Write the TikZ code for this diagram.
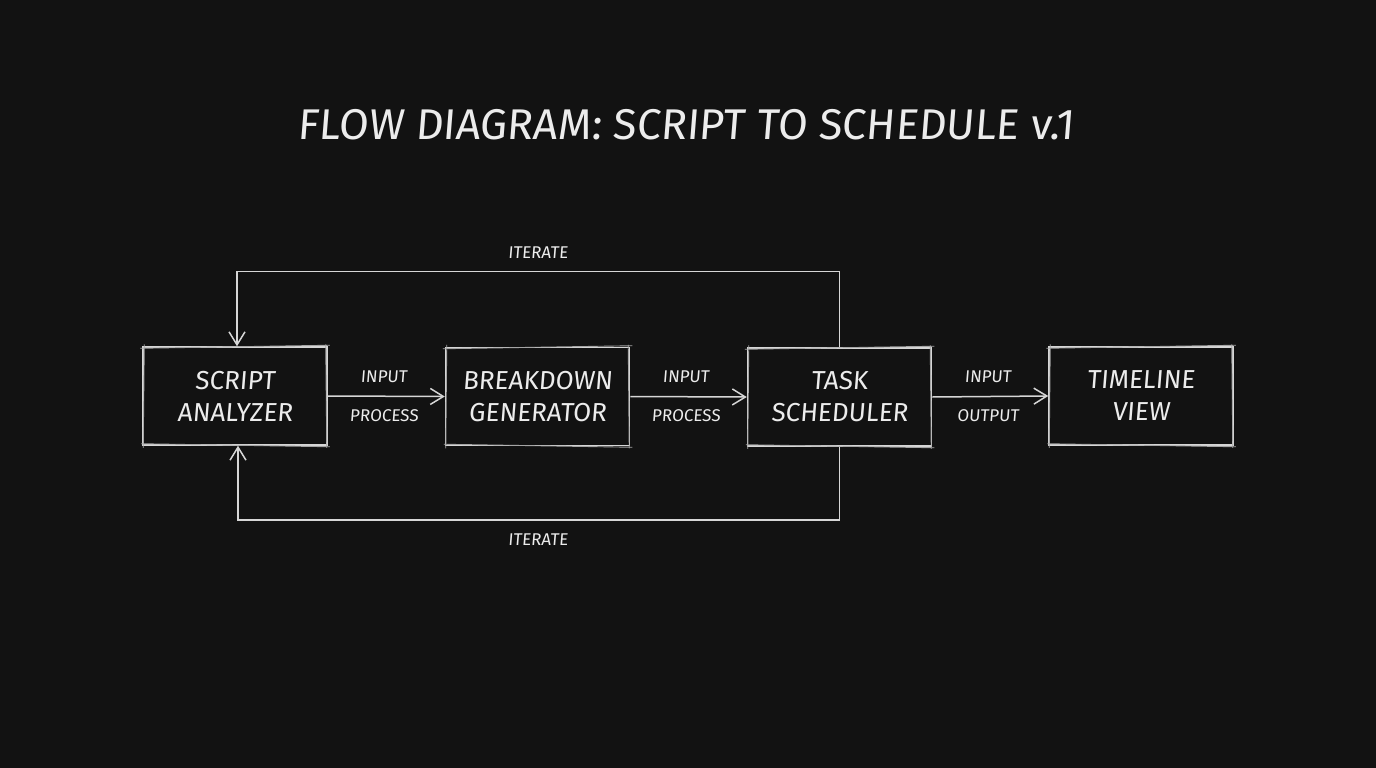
\documentclass[tikz,border=0pt]{standalone}
\usepackage{fontspec}
\setmainfont{Fira Sans}[FakeSlant=0.08]
\usetikzlibrary{arrows.meta,calc}
\definecolor{bg}{HTML}{121212}
\definecolor{chalk}{HTML}{D6D6D6}
\definecolor{ink}{HTML}{ECECEC}
\tikzset{
  box/.style={draw=chalk, line width=1.5pt, minimum width=184pt, minimum height=98pt,
    align=center, text=ink, font=\fontsize{26}{32}\selectfont, inner sep=0pt},
  lbl/.style={text=ink, font=\fontsize{17}{20}\selectfont, inner sep=0pt},
  ttl/.style={text=ink, font=\fontsize{43}{50}\selectfont, inner sep=0pt},
  wire/.style={draw=chalk, line width=1.5pt},
  arr/.style={wire, -{Straight Barb[length=13pt,width=16pt,line width=1.5pt]}},
  sketch/.style={draw=chalk!75!bg, line width=0.9pt}
}
\begin{document}
\begin{tikzpicture}[x=1pt,y=-1pt]
\useasboundingbox (0,0) rectangle (1376,768);
\fill[bg] (0,0) rectangle (1376,768);

\node[ttl] (title) at (686,125) {FLOW DIAGRAM: SCRIPT TO SCHEDULE v.1};

\node[box] (a) at (235,396) {SCRIPT\\ANALYZER};
\node[box] (b) at (537.5,396.5) {BREAKDOWN\\GENERATOR};
\node[box] (c) at (839.5,397) {TASK\\SCHEDULER};
\node[box] (d) at (1141,396) {TIMELINE\\VIEW};

% sketchy second strokes
\foreach \n in {a,b,c,d}{
  \draw[sketch] ($(\n.north west)+(-2,2)$) -- ($(\n.north east)+(2,-1)$);
  \draw[sketch] ($(\n.south west)+(-1,-2)$) -- ($(\n.south east)+(2,1)$);
  \draw[sketch] ($(\n.north west)+(2,-2)$) -- ($(\n.south west)+(1,2)$);
  \draw[sketch] ($(\n.north east)+(-2,-2)$) -- ($(\n.south east)+(-1,2)$);
}

\draw[arr] (a.east) -- (b.west);
\draw[arr] (b.east) -- (c.west);
\draw[arr] (c.east) -- (d.west);

\node[lbl] (l1) at (384,377) {INPUT};
\node[lbl] (l2) at (384,416) {PROCESS};
\node[lbl] (l3) at (686,377) {INPUT};
\node[lbl] (l4) at (686,416) {PROCESS};
\node[lbl] (l5) at (988,377) {INPUT};
\node[lbl] (l6) at (988,416) {OUTPUT};

\coordinate (tr) at ($(c.north)+(0,-76)$);
\coordinate (br) at ($(c.south)+(0,73)$);
\coordinate (ta) at ($(a.north)+(2,0)$);
\coordinate (ba) at ($(a.south)+(3,0)$);
\draw[arr] (c.north) -- (tr) -| (ta);
\draw[arr] (c.south) -- (br) -| (ba);

\node[lbl] (it1) at (538,253) {ITERATE};
\node[lbl] (it2) at (538,540) {ITERATE};
\end{tikzpicture}
\end{document}
